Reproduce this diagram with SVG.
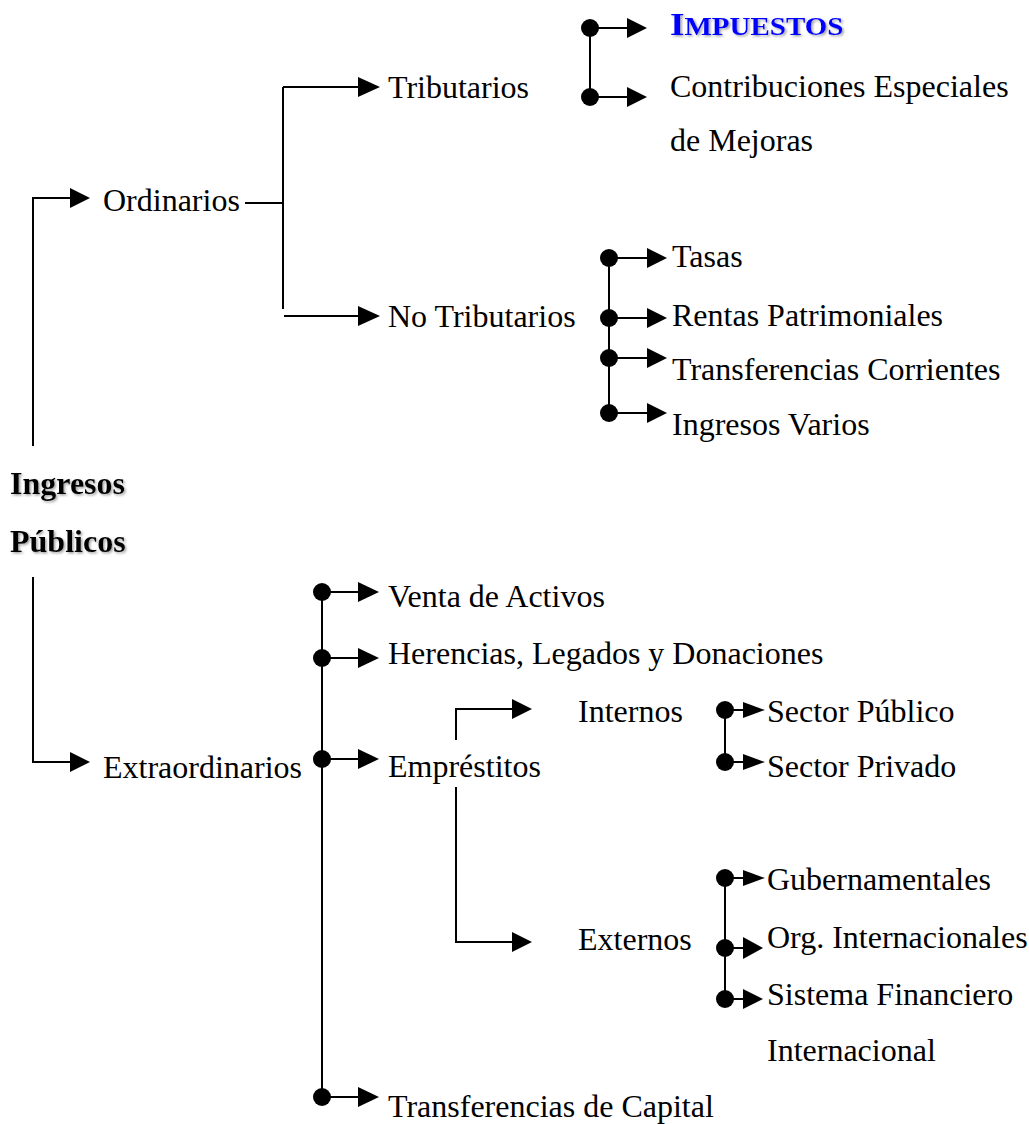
<svg xmlns="http://www.w3.org/2000/svg" width="1029" height="1124" viewBox="0 0 1029 1124">
<style>
text{font-family:"Liberation Serif","Times New Roman",serif;font-size:32px;fill:#000}
.b{font-weight:bold;filter:url(#sh)}
.imp{font-weight:bold;fill:#0000ff;filter:url(#sh)}
.ln{fill:none;stroke:#000;stroke-width:2}
.dot{fill:#000}
.ah{fill:#000}
</style>
<defs>
<filter id="sh" x="-10%" y="-20%" width="130%" height="160%">
<feDropShadow dx="1.5" dy="1.5" stdDeviation="0.8" flood-color="#666" flood-opacity="0.6"/>
</filter>
</defs>
<g id="connectors">
<path class="ln" d="M33,446 V198 H70"/>
<polygon class="ah" points="70,188 90,198 70,208"/>
<path class="ln" d="M33,577 V762 H70"/>
<polygon class="ah" points="70,752 90,762 70,772"/>
<path class="ln" d="M245,203 H283 M283,87 V309 M283,87 H358 M284,316 H358"/>
<polygon class="ah" points="358,77 380,87 358,97"/>
<polygon class="ah" points="358,306 380,316 358,326"/>
<path class="ln" d="M590,28 V97 M590,28 H627 M590,97 H627"/>
<circle class="dot" cx="590" cy="28" r="9"/><circle class="dot" cx="590" cy="97" r="9"/>
<polygon class="ah" points="627,18 647,28 627,38"/>
<polygon class="ah" points="627,87 647,97 627,107"/>
<path class="ln" d="M609,258 V413 M609,258 H647 M609,318 H647 M609,358 H647 M609,413 H647"/>
<circle class="dot" cx="609" cy="258" r="9"/><circle class="dot" cx="609" cy="318" r="9"/><circle class="dot" cx="609" cy="358" r="9"/><circle class="dot" cx="609" cy="413" r="9"/>
<polygon class="ah" points="647,248 667,258 647,268"/>
<polygon class="ah" points="647,308 667,318 647,328"/>
<polygon class="ah" points="647,348 667,358 647,368"/>
<polygon class="ah" points="647,403 667,413 647,423"/>
<path class="ln" d="M322,592 V1097 M322,592 H358 M322,658 H358 M322,759 H358 M322,1097 H358"/>
<circle class="dot" cx="322" cy="592" r="9"/><circle class="dot" cx="322" cy="658" r="9"/><circle class="dot" cx="322" cy="759" r="9"/><circle class="dot" cx="322" cy="1097" r="9"/>
<polygon class="ah" points="358,582 379,592 358,602"/>
<polygon class="ah" points="358,648 379,658 358,668"/>
<polygon class="ah" points="358,749 379,759 358,769"/>
<polygon class="ah" points="358,1087 379,1097 358,1107"/>
<path class="ln" d="M456,740 V709 H512 M456,787 V942 H512"/>
<polygon class="ah" points="512,699 532,709 512,719"/>
<polygon class="ah" points="512,932 532,942 512,952"/>
<path class="ln" d="M725,710 V762 M725,710 H745 M725,762 H745"/>
<circle class="dot" cx="725" cy="710" r="9"/><circle class="dot" cx="725" cy="762" r="9"/>
<polygon class="ah" points="743,702 765,710 743,718"/>
<polygon class="ah" points="743,754 765,762 743,770"/>
<path class="ln" d="M725,878 V999 M725,878 H745 M725,948 H745 M725,999 H745"/>
<circle class="dot" cx="725" cy="878" r="9"/><circle class="dot" cx="725" cy="948" r="9"/><circle class="dot" cx="725" cy="999" r="9"/>
<polygon class="ah" points="743,870 765,878 743,886"/>
<polygon class="ah" points="743,937 763,948 743,959"/>
<polygon class="ah" points="743,989 763,999 743,1009"/>
</g>
<g id="ingresos-publicos"><text class="b" x="10" y="494">Ingresos</text><text class="b" x="10" y="552">Públicos</text></g>
<g id="ordinarios"><text x="103" y="211">Ordinarios</text></g>
<g id="extraordinarios"><text x="103" y="778">Extraordinarios</text></g>
<g id="tributarios"><text x="388" y="98">Tributarios</text></g>
<g id="no-tributarios"><text x="388" y="327">No Tributarios</text></g>
<g id="impuestos"><text class="imp" transform="translate(670,35) scale(1.16,1)" x="0" y="0"><tspan>I</tspan><tspan font-size="25">MPUESTOS</tspan></text></g>
<g id="contribuciones"><text x="670" y="97">Contribuciones Especiales</text><text x="670" y="151">de Mejoras</text></g>
<g id="tasas"><text x="672" y="267">Tasas</text></g>
<g id="rentas"><text x="672" y="326">Rentas Patrimoniales</text></g>
<g id="transferencias-corrientes"><text x="672" y="380">Transferencias Corrientes</text></g>
<g id="ingresos-varios"><text x="672" y="435">Ingresos Varios</text></g>
<g id="venta"><text x="388" y="607">Venta de Activos</text></g>
<g id="herencias"><text x="388" y="664">Herencias, Legados y Donaciones</text></g>
<g id="emprestitos"><text x="388" y="777">Empréstitos</text></g>
<g id="internos"><text x="578" y="722">Internos</text></g>
<g id="externos"><text x="578" y="950">Externos</text></g>
<g id="sector-publico"><text x="767" y="722">Sector Público</text></g>
<g id="sector-privado"><text x="767" y="777">Sector Privado</text></g>
<g id="gubernamentales"><text x="767" y="890">Gubernamentales</text></g>
<g id="org-internacionales"><text x="767" y="948">Org. Internacionales</text></g>
<g id="sistema-financiero"><text x="767" y="1005">Sistema Financiero</text><text x="767" y="1061">Internacional</text></g>
<g id="transferencias-capital"><text x="388" y="1117">Transferencias de Capital</text></g>
</svg>
